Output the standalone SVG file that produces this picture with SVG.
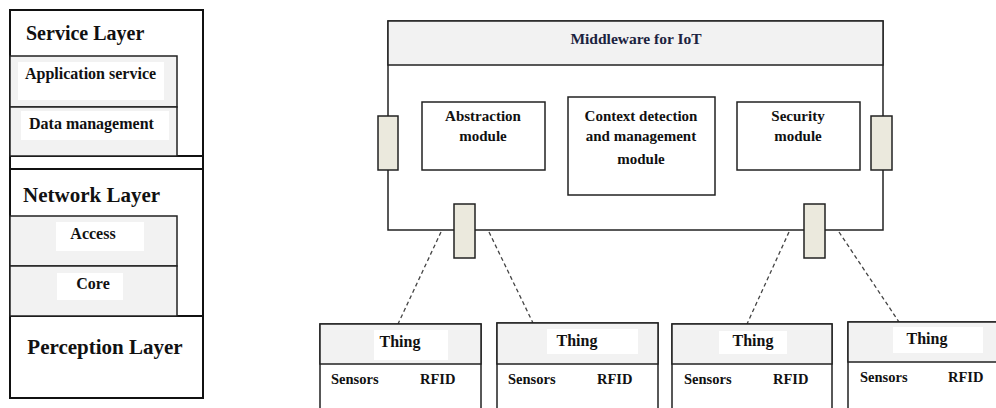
<svg xmlns="http://www.w3.org/2000/svg" width="996" height="408" viewBox="0 0 996 408">
<style>
.t{font-family:'Liberation Serif','DejaVu Serif',serif;font-weight:700;fill:#111;}
.frame{fill:#fff;stroke:#111;stroke-width:2;}
.sub{fill:#f2f2f2;stroke:#222;stroke-width:1.5;}
.box{fill:#fff;stroke:#222;stroke-width:1.5;}
.hdr{fill:#f2f2f2;stroke:#222;stroke-width:1.5;}
.port{fill:#ebe9dd;stroke:#222;stroke-width:1.5;}
.wbg{fill:#fff;stroke:none;}
.conn{stroke:#444;stroke-width:1.3;stroke-dasharray:4 3;fill:none;}
.c{text-anchor:middle;}
</style>

<g id="layer-stack">
  <rect class="frame" x="10" y="10" width="193" height="388"/>
  <line x1="10" y1="156" x2="203" y2="156" stroke="#111" stroke-width="2"/>
  <line x1="10" y1="169" x2="203" y2="169" stroke="#111" stroke-width="2"/>
  <line x1="10" y1="316" x2="203" y2="316" stroke="#111" stroke-width="2"/>
</g>
<g id="service-layer">
  <text class="t" font-family="Liberation Serif, serif" x="26" y="40" font-size="20">Service Layer</text>
</g>
<g id="application-service">
  <rect class="sub" x="10" y="56" width="167" height="51"/>
  <rect class="wbg" x="18" y="62" width="146" height="38"/>
  <text class="t" x="25" y="79" font-size="16">Application service</text>
</g>
<g id="data-management">
  <rect class="sub" x="10" y="107" width="167" height="49"/>
  <rect class="wbg" x="21" y="111" width="148" height="29"/>
  <text class="t" x="29" y="129" font-size="16">Data management</text>
</g>
<g id="network-layer">
  <text class="t" x="23" y="202" font-size="21">Network Layer</text>
</g>
<g id="access">
  <rect class="sub" x="10" y="216" width="167" height="50"/>
  <rect class="wbg" x="56" y="222" width="88" height="29"/>
  <text class="t c" x="93" y="239" font-size="16">Access</text>
</g>
<g id="core">
  <rect class="sub" x="10" y="266" width="167" height="50"/>
  <rect class="wbg" x="57" y="273" width="66" height="27"/>
  <text class="t c" x="93" y="289" font-size="16">Core</text>
</g>
<g id="perception-layer">
  <text class="t c" x="105" y="354" font-size="21">Perception Layer</text>
</g>

<g id="middleware">
  <rect class="box" x="388" y="21" width="495" height="209"/>
  <rect class="hdr" x="388" y="21" width="495" height="44"/>
  <text class="t c" x="636" y="44" font-size="15.5" style="fill:#1c2340">Middleware for IoT</text>
</g>
<g id="abstraction-module">
  <rect class="box" x="422" y="102" width="123" height="68"/>
  <text class="t c" x="483" y="121" font-size="15">Abstraction</text>
  <text class="t c" x="483" y="141" font-size="15">module</text>
</g>
<g id="context-module">
  <rect class="box" x="568" y="97" width="147" height="98"/>
  <text class="t c" x="641" y="121" font-size="15">Context detection</text>
  <text class="t c" x="641" y="141" font-size="15">and management</text>
  <text class="t c" x="641" y="164" font-size="15">module</text>
</g>
<g id="security-module">
  <rect class="box" x="737" y="102" width="123" height="68"/>
  <text class="t c" x="798" y="121" font-size="15">Security</text>
  <text class="t c" x="798" y="141" font-size="15">module</text>
</g>
<g id="port-left">
  <rect class="port" x="378" y="116" width="20" height="54"/>
</g>
<g id="port-right">
  <rect class="port" x="871" y="116" width="21" height="54"/>
</g>
<g id="port-bottom-left">
  <rect class="port" x="454" y="204" width="21" height="54"/>
</g>
<g id="port-bottom-right">
  <rect class="port" x="804" y="204" width="21" height="54"/>
</g>

<g id="connectors">
  <line class="conn" x1="441" y1="232" x2="398" y2="324"/>
  <line class="conn" x1="489" y1="232" x2="533" y2="323"/>
  <line class="conn" x1="789" y1="232" x2="747" y2="324"/>
  <line class="conn" x1="839" y1="232" x2="899" y2="322"/>
</g>

<g id="thing-1">
  <rect class="box" x="320" y="324" width="161" height="100"/>
  <rect class="hdr" x="320" y="324" width="161" height="40"/>
  <rect class="wbg" x="374" y="330" width="74" height="30"/>
  <text class="t c" x="400" y="347" font-size="16">Thing</text>
  <text class="t" x="331" y="384" font-size="14.5">Sensors</text>
  <text class="t" x="420" y="384" font-size="14.5">RFID</text>
</g>
<g id="thing-2">
  <rect class="box" x="497" y="323" width="161" height="100"/>
  <rect class="hdr" x="497" y="323" width="161" height="41"/>
  <rect class="wbg" x="547" y="329" width="91" height="25"/>
  <text class="t c" x="577" y="346" font-size="16">Thing</text>
  <text class="t" x="508" y="384" font-size="14.5">Sensors</text>
  <text class="t" x="597" y="384" font-size="14.5">RFID</text>
</g>
<g id="thing-3">
  <rect class="box" x="672" y="324" width="160" height="100"/>
  <rect class="hdr" x="672" y="324" width="160" height="40"/>
  <rect class="wbg" x="719" y="331" width="68" height="23"/>
  <text class="t c" x="753" y="346" font-size="16">Thing</text>
  <text class="t" x="684" y="384" font-size="14.5">Sensors</text>
  <text class="t" x="773" y="384" font-size="14.5">RFID</text>
</g>
<g id="thing-4">
  <rect class="box" x="848" y="322" width="160" height="100"/>
  <rect class="hdr" x="848" y="322" width="160" height="40"/>
  <rect class="wbg" x="893" y="327" width="90" height="26"/>
  <text class="t c" x="927" y="344" font-size="16">Thing</text>
  <text class="t" x="860" y="382" font-size="14.5">Sensors</text>
  <text class="t" x="948" y="382" font-size="14.5">RFID</text>
</g>
</svg>
